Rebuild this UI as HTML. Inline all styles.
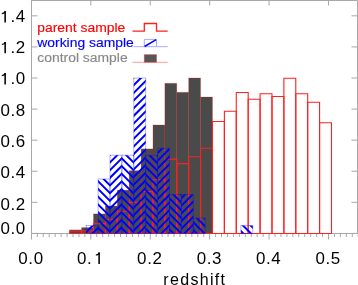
<!DOCTYPE html>
<html><head><meta charset="utf-8"><style>
html,body{margin:0;padding:0;background:#fff;width:358px;height:285px;overflow:hidden}
svg{display:block;will-change:transform}
text{font-family:"Liberation Sans",sans-serif}
</style></head><body>
<svg width="358" height="285" viewBox="0 0 358 285">
<rect width="358" height="285" fill="#fff"/>
<path d="M31.5 0.5 H357.5 V233.5 H31.5 Z" fill="none" stroke="#a8a8a8" stroke-width="1"/><path d="M31.5 233.40h6M357.5 233.40h-6M31.5 202.32h6M357.5 202.32h-6M31.5 171.24h6M357.5 171.24h-6M31.5 140.16h6M357.5 140.16h-6M31.5 109.08h6M357.5 109.08h-6M31.5 78.00h6M357.5 78.00h-6M31.5 46.92h6M357.5 46.92h-6M31.5 15.84h6M357.5 15.84h-6M31.50 233.5v6M31.50 0.5v5M37.34 233.5v3.5M43.28 233.5v3.5M49.23 233.5v3.5M55.17 233.5v3.5M61.11 233.5v3.5M67.05 233.5v3.5M72.99 233.5v3.5M78.94 233.5v3.5M84.88 233.5v3.5M90.82 233.5v6M90.82 0.5v5M96.76 233.5v3.5M102.70 233.5v3.5M108.65 233.5v3.5M114.59 233.5v3.5M120.53 233.5v3.5M126.47 233.5v3.5M132.41 233.5v3.5M138.36 233.5v3.5M144.30 233.5v3.5M150.24 233.5v6M150.24 0.5v5M156.18 233.5v3.5M162.12 233.5v3.5M168.07 233.5v3.5M174.01 233.5v3.5M179.95 233.5v3.5M185.89 233.5v3.5M191.83 233.5v3.5M197.78 233.5v3.5M203.72 233.5v3.5M209.66 233.5v6M209.66 0.5v5M215.60 233.5v3.5M221.54 233.5v3.5M227.49 233.5v3.5M233.43 233.5v3.5M239.37 233.5v3.5M245.31 233.5v3.5M251.25 233.5v3.5M257.20 233.5v3.5M263.14 233.5v3.5M269.08 233.5v6M269.08 0.5v5M275.02 233.5v3.5M280.96 233.5v3.5M286.91 233.5v3.5M292.85 233.5v3.5M298.79 233.5v3.5M304.73 233.5v3.5M310.67 233.5v3.5M316.62 233.5v3.5M322.56 233.5v3.5M328.50 233.5v6M328.50 0.5v5M334.44 233.5v3.5M340.38 233.5v3.5M346.33 233.5v3.5M352.27 233.5v3.5M358.21 233.5v3.5" stroke="#a8a8a8" stroke-width="1" fill="none"/>
<defs><clipPath id="c0"><rect x="86.20" y="225.50" width="11.90" height="8.00"/></clipPath><clipPath id="c1"><rect x="98.10" y="179.00" width="11.90" height="54.50"/></clipPath><clipPath id="c2"><rect x="110.00" y="155.20" width="11.90" height="78.30"/></clipPath><clipPath id="c3"><rect x="121.90" y="155.20" width="11.90" height="78.30"/></clipPath><clipPath id="c4"><rect x="133.80" y="78.00" width="11.90" height="155.50"/></clipPath><clipPath id="c5"><rect x="145.70" y="155.30" width="11.90" height="78.20"/></clipPath><clipPath id="c6"><rect x="157.60" y="148.30" width="11.90" height="85.20"/></clipPath><clipPath id="c7"><rect x="169.50" y="194.50" width="11.90" height="39.00"/></clipPath><clipPath id="c8"><rect x="181.40" y="194.50" width="11.90" height="39.00"/></clipPath><clipPath id="c9"><rect x="193.30" y="218.00" width="11.90" height="15.50"/></clipPath><clipPath id="c10"><rect x="240.90" y="225.50" width="11.90" height="8.00"/></clipPath></defs>
<rect x="69.68" y="229.90" width="11.90" height="3.60" fill="#4a4a4a" stroke="#ff0000" stroke-opacity="0.22" stroke-width="1"/>
<rect x="81.58" y="227.60" width="11.90" height="5.90" fill="#4a4a4a" stroke="#ff0000" stroke-opacity="0.22" stroke-width="1"/>
<rect x="93.47" y="213.90" width="11.90" height="19.60" fill="#4a4a4a" stroke="#ff0000" stroke-opacity="0.22" stroke-width="1"/>
<rect x="105.38" y="206.00" width="11.90" height="27.50" fill="#4a4a4a" stroke="#ff0000" stroke-opacity="0.22" stroke-width="1"/>
<rect x="117.28" y="190.20" width="11.90" height="43.30" fill="#4a4a4a" stroke="#ff0000" stroke-opacity="0.22" stroke-width="1"/>
<rect x="129.18" y="170.70" width="11.90" height="62.80" fill="#4a4a4a" stroke="#ff0000" stroke-opacity="0.22" stroke-width="1"/>
<rect x="141.08" y="148.90" width="11.90" height="84.60" fill="#4a4a4a" stroke="#ff0000" stroke-opacity="0.22" stroke-width="1"/>
<rect x="152.97" y="125.00" width="11.90" height="108.50" fill="#4a4a4a" stroke="#ff0000" stroke-opacity="0.22" stroke-width="1"/>
<rect x="164.88" y="83.30" width="11.90" height="150.20" fill="#4a4a4a" stroke="#ff0000" stroke-opacity="0.22" stroke-width="1"/>
<rect x="176.78" y="92.30" width="11.90" height="141.20" fill="#4a4a4a" stroke="#ff0000" stroke-opacity="0.22" stroke-width="1"/>
<rect x="188.68" y="78.00" width="11.90" height="155.50" fill="#4a4a4a" stroke="#ff0000" stroke-opacity="0.22" stroke-width="1"/>
<rect x="200.57" y="97.00" width="11.90" height="136.50" fill="#4a4a4a" stroke="#ff0000" stroke-opacity="0.22" stroke-width="1"/>
<path d="M69.68 233.5 V231.00 H81.58 V233.5" fill="none" stroke="#ff2020" stroke-width="1.1"/>
<path d="M81.58 233.5 V230.70 H93.47 V233.5" fill="none" stroke="#ff2020" stroke-width="1.1"/>
<path d="M93.47 233.5 V223.60 H105.38 V233.5" fill="none" stroke="#ff2020" stroke-width="1.1"/>
<path d="M105.38 233.5 V219.60 H117.28 V233.5" fill="none" stroke="#ff2020" stroke-width="1.1"/>
<path d="M117.28 233.5 V211.50 H129.18 V233.5" fill="none" stroke="#ff2020" stroke-width="1.1"/>
<path d="M129.18 233.5 V202.40 H141.08 V233.5" fill="none" stroke="#ff2020" stroke-width="1.1"/>
<path d="M141.08 233.5 V191.60 H152.97 V233.5" fill="none" stroke="#ff2020" stroke-width="1.1"/>
<path d="M152.97 233.5 V179.70 H164.88 V233.5" fill="none" stroke="#ff2020" stroke-width="1.1"/>
<path d="M164.88 233.5 V159.10 H176.78 V233.5" fill="none" stroke="#ff2020" stroke-width="1.1"/>
<path d="M176.78 233.5 V163.60 H188.68 V233.5" fill="none" stroke="#ff2020" stroke-width="1.1"/>
<path d="M188.68 233.5 V156.70 H200.57 V233.5" fill="none" stroke="#ff2020" stroke-width="1.1"/>
<path d="M200.57 233.5 V148.30 H212.47 V233.5" fill="none" stroke="#ff2020" stroke-width="1.1"/>
<path d="M212.47 233.5 V121.50 H224.38 V233.5" fill="none" stroke="#ff2020" stroke-width="1.1"/>
<path d="M224.38 233.5 V111.30 H236.28 V233.5" fill="none" stroke="#ff2020" stroke-width="1.1"/>
<path d="M236.28 233.5 V92.50 H248.18 V233.5" fill="none" stroke="#ff2020" stroke-width="1.1"/>
<path d="M248.18 233.5 V99.20 H260.07 V233.5" fill="none" stroke="#ff2020" stroke-width="1.1"/>
<path d="M260.07 233.5 V93.70 H271.98 V233.5" fill="none" stroke="#ff2020" stroke-width="1.1"/>
<path d="M271.98 233.5 V96.50 H283.88 V233.5" fill="none" stroke="#ff2020" stroke-width="1.1"/>
<path d="M283.88 233.5 V78.20 H295.78 V233.5" fill="none" stroke="#ff2020" stroke-width="1.1"/>
<path d="M295.78 233.5 V93.80 H307.68 V233.5" fill="none" stroke="#ff2020" stroke-width="1.1"/>
<path d="M307.68 233.5 V102.30 H319.58 V233.5" fill="none" stroke="#ff2020" stroke-width="1.1"/>
<path d="M319.58 233.5 V122.70 H331.48 V233.5" fill="none" stroke="#ff2020" stroke-width="1.1"/>
<path d="M69.68 233.5 H331.48" stroke="#ff2020" stroke-width="1.1"/>
<rect x="86.20" y="225.50" width="11.90" height="8.00" fill="none" stroke="#0000ff" stroke-opacity="0.3" stroke-width="1"/>
<path clip-path="url(#c0)" d="M81.20 221.85L103.10 199.95M81.20 229.50L103.10 207.60M81.20 237.15L103.10 215.25M81.20 244.80L103.10 222.90M81.20 252.45L103.10 230.55M81.20 260.10L103.10 238.20" stroke="#0000ff" stroke-width="2.0" fill="none"/>
<rect x="98.10" y="179.00" width="11.90" height="54.50" fill="none" stroke="#0000ff" stroke-opacity="0.3" stroke-width="1"/>
<path clip-path="url(#c1)" d="M93.10 238.14L115.00 260.04M93.10 230.40L115.00 252.30M93.10 222.66L115.00 244.56M93.10 214.92L115.00 236.82M93.10 207.18L115.00 229.08M93.10 199.44L115.00 221.34M93.10 191.70L115.00 213.60M93.10 183.96L115.00 205.86M93.10 176.22L115.00 198.12M93.10 168.48L115.00 190.38M93.10 160.74L115.00 182.64M93.10 153.00L115.00 174.90" stroke="#0000ff" stroke-width="2.0" fill="none"/>
<rect x="110.00" y="155.20" width="11.90" height="78.30" fill="none" stroke="#0000ff" stroke-opacity="0.3" stroke-width="1"/>
<path clip-path="url(#c2)" d="M105.00 152.15L126.90 130.25M105.00 159.80L126.90 137.90M105.00 167.45L126.90 145.55M105.00 175.10L126.90 153.20M105.00 182.75L126.90 160.85M105.00 190.40L126.90 168.50M105.00 198.05L126.90 176.15M105.00 205.70L126.90 183.80M105.00 213.35L126.90 191.45M105.00 221.00L126.90 199.10M105.00 228.65L126.90 206.75M105.00 236.30L126.90 214.40M105.00 243.95L126.90 222.05M105.00 251.60L126.90 229.70M105.00 259.25L126.90 237.35" stroke="#0000ff" stroke-width="2.0" fill="none"/>
<rect x="121.90" y="155.20" width="11.90" height="78.30" fill="none" stroke="#0000ff" stroke-opacity="0.3" stroke-width="1"/>
<path clip-path="url(#c3)" d="M116.90 238.72L138.80 260.62M116.90 230.98L138.80 252.88M116.90 223.24L138.80 245.14M116.90 215.50L138.80 237.40M116.90 207.76L138.80 229.66M116.90 200.02L138.80 221.92M116.90 192.28L138.80 214.18M116.90 184.54L138.80 206.44M116.90 176.80L138.80 198.70M116.90 169.06L138.80 190.96M116.90 161.32L138.80 183.22M116.90 153.58L138.80 175.48M116.90 145.84L138.80 167.74M116.90 138.10L138.80 160.00M116.90 130.36L138.80 152.26" stroke="#0000ff" stroke-width="2.0" fill="none"/>
<rect x="133.80" y="78.00" width="11.90" height="155.50" fill="none" stroke="#0000ff" stroke-opacity="0.3" stroke-width="1"/>
<path clip-path="url(#c4)" d="M128.80 74.80L150.70 52.90M128.80 82.45L150.70 60.55M128.80 90.10L150.70 68.20M128.80 97.75L150.70 75.85M128.80 105.40L150.70 83.50M128.80 113.05L150.70 91.15M128.80 120.70L150.70 98.80M128.80 128.35L150.70 106.45M128.80 136.00L150.70 114.10M128.80 143.65L150.70 121.75M128.80 151.30L150.70 129.40M128.80 158.95L150.70 137.05M128.80 166.60L150.70 144.70M128.80 174.25L150.70 152.35M128.80 181.90L150.70 160.00M128.80 189.55L150.70 167.65M128.80 197.20L150.70 175.30M128.80 204.85L150.70 182.95M128.80 212.50L150.70 190.60M128.80 220.15L150.70 198.25M128.80 227.80L150.70 205.90M128.80 235.45L150.70 213.55M128.80 243.10L150.70 221.20M128.80 250.75L150.70 228.85M128.80 258.40L150.70 236.50" stroke="#0000ff" stroke-width="2.0" fill="none"/>
<rect x="145.70" y="155.30" width="11.90" height="78.20" fill="none" stroke="#0000ff" stroke-opacity="0.3" stroke-width="1"/>
<path clip-path="url(#c5)" d="M140.70 239.30L162.60 261.20M140.70 231.56L162.60 253.46M140.70 223.82L162.60 245.72M140.70 216.08L162.60 237.98M140.70 208.34L162.60 230.24M140.70 200.60L162.60 222.50M140.70 192.86L162.60 214.76M140.70 185.12L162.60 207.02M140.70 177.38L162.60 199.28M140.70 169.64L162.60 191.54M140.70 161.90L162.60 183.80M140.70 154.16L162.60 176.06M140.70 146.42L162.60 168.32M140.70 138.68L162.60 160.58M140.70 130.94L162.60 152.84M140.70 123.20L162.60 145.10" stroke="#0000ff" stroke-width="2.0" fill="none"/>
<rect x="157.60" y="148.30" width="11.90" height="85.20" fill="none" stroke="#0000ff" stroke-opacity="0.3" stroke-width="1"/>
<path clip-path="url(#c6)" d="M152.60 142.80L174.50 120.90M152.60 150.45L174.50 128.55M152.60 158.10L174.50 136.20M152.60 165.75L174.50 143.85M152.60 173.40L174.50 151.50M152.60 181.05L174.50 159.15M152.60 188.70L174.50 166.80M152.60 196.35L174.50 174.45M152.60 204.00L174.50 182.10M152.60 211.65L174.50 189.75M152.60 219.30L174.50 197.40M152.60 226.95L174.50 205.05M152.60 234.60L174.50 212.70M152.60 242.25L174.50 220.35M152.60 249.90L174.50 228.00M152.60 257.55L174.50 235.65M152.60 265.20L174.50 243.30" stroke="#0000ff" stroke-width="2.0" fill="none"/>
<rect x="169.50" y="194.50" width="11.90" height="39.00" fill="none" stroke="#0000ff" stroke-opacity="0.3" stroke-width="1"/>
<path clip-path="url(#c7)" d="M164.50 239.88L186.40 261.78M164.50 232.14L186.40 254.04M164.50 224.40L186.40 246.30M164.50 216.66L186.40 238.56M164.50 208.92L186.40 230.82M164.50 201.18L186.40 223.08M164.50 193.44L186.40 215.34M164.50 185.70L186.40 207.60M164.50 177.96L186.40 199.86M164.50 170.22L186.40 192.12M164.50 162.48L186.40 184.38" stroke="#0000ff" stroke-width="2.0" fill="none"/>
<rect x="181.40" y="194.50" width="11.90" height="39.00" fill="none" stroke="#0000ff" stroke-opacity="0.3" stroke-width="1"/>
<path clip-path="url(#c8)" d="M176.40 187.85L198.30 165.95M176.40 195.50L198.30 173.60M176.40 203.15L198.30 181.25M176.40 210.80L198.30 188.90M176.40 218.45L198.30 196.55M176.40 226.10L198.30 204.20M176.40 233.75L198.30 211.85M176.40 241.40L198.30 219.50M176.40 249.05L198.30 227.15M176.40 256.70L198.30 234.80M176.40 264.35L198.30 242.45" stroke="#0000ff" stroke-width="2.0" fill="none"/>
<rect x="193.30" y="218.00" width="11.90" height="15.50" fill="none" stroke="#0000ff" stroke-opacity="0.3" stroke-width="1"/>
<path clip-path="url(#c9)" d="M188.30 240.46L210.20 262.36M188.30 232.72L210.20 254.62M188.30 224.98L210.20 246.88M188.30 217.24L210.20 239.14M188.30 209.50L210.20 231.40M188.30 201.76L210.20 223.66M188.30 194.02L210.20 215.92M188.30 186.28L210.20 208.18" stroke="#0000ff" stroke-width="2.0" fill="none"/>
<rect x="240.90" y="225.50" width="11.90" height="8.00" fill="none" stroke="#0000ff" stroke-opacity="0.3" stroke-width="1"/>
<path clip-path="url(#c10)" d="M235.90 241.62L257.80 263.52M235.90 233.88L257.80 255.78M235.90 226.14L257.80 248.04M235.90 218.40L257.80 240.30M235.90 210.66L257.80 232.56M235.90 202.92L257.80 224.82M235.90 195.18L257.80 217.08" stroke="#0000ff" stroke-width="2.0" fill="none"/>
<g font-family="Liberation Sans, sans-serif" fill="#000"><text transform="translate(25.88 233.50) scale(1.06 1)" text-anchor="end" font-size="16" letter-spacing="0.6">0.0</text><text transform="translate(25.88 209.60) scale(1.06 1)" text-anchor="end" font-size="16" letter-spacing="0.6">0.2</text><text transform="translate(25.88 178.20) scale(1.06 1)" text-anchor="end" font-size="16" letter-spacing="0.6">0.4</text><text transform="translate(25.88 147.00) scale(1.06 1)" text-anchor="end" font-size="16" letter-spacing="0.6">0.6</text><text transform="translate(25.88 116.40) scale(1.06 1)" text-anchor="end" font-size="16" letter-spacing="0.6">0.8</text><text transform="translate(25.88 84.40) scale(1.06 1)" text-anchor="end" font-size="16" letter-spacing="0.6">.0</text><text transform="translate(25.88 53.20) scale(1.06 1)" text-anchor="end" font-size="16" letter-spacing="0.6">.2</text><text transform="translate(25.88 22.40) scale(1.06 1)" text-anchor="end" font-size="16" letter-spacing="0.6">.4</text><text transform="translate(30.97 264) scale(1.06 1)" text-anchor="middle" font-size="16" letter-spacing="0.6">0.0</text><text transform="translate(77.0 264) scale(1.06 1)" font-size="16" letter-spacing="0.6">0.</text><text transform="translate(149.82 264) scale(1.06 1)" text-anchor="middle" font-size="16" letter-spacing="0.6">0.2</text><text transform="translate(209.37 264) scale(1.06 1)" text-anchor="middle" font-size="16" letter-spacing="0.6">0.3</text><text transform="translate(268.67 264) scale(1.06 1)" text-anchor="middle" font-size="16" letter-spacing="0.6">0.4</text><text transform="translate(328.17 264) scale(1.06 1)" text-anchor="middle" font-size="16" letter-spacing="0.6">0.5</text><text x="194.8" y="284.8" text-anchor="middle" font-size="16" letter-spacing="1.3">redshift</text><text transform="translate(37.3 31.6) scale(1.03 1)" font-size="13.5" fill="#ff0000" stroke="#ff0000" stroke-width="0.15">parent sample</text><text transform="translate(37.3 46.7) scale(1.03 1)" font-size="13.5" fill="#0000ff" stroke="#0000ff" stroke-width="0.15">working sample</text><text transform="translate(37.3 62.0) scale(1.03 1)" font-size="13.5" fill="#888888" stroke="#888888" stroke-width="0.15">control sample</text></g>
<path d="M5.15 84.40V73.20" stroke="#000" stroke-width="1.55" fill="none"/><path d="M5.90 73.10L4.55 73.10C4.25 74.40 2.95 74.90 1.85 75.10L1.85 76.20C3.35 76.10 4.55 75.60 5.25 74.80Z" fill="#000"/><path d="M5.15 53.20V42.00" stroke="#000" stroke-width="1.55" fill="none"/><path d="M5.90 41.90L4.55 41.90C4.25 43.20 2.95 43.70 1.85 43.90L1.85 45.00C3.35 44.90 4.55 44.40 5.25 43.60Z" fill="#000"/><path d="M5.15 22.40V11.20" stroke="#000" stroke-width="1.55" fill="none"/><path d="M5.90 11.10L4.55 11.10C4.25 12.40 2.95 12.90 1.85 13.10L1.85 14.20C3.35 14.10 4.55 13.60 5.25 12.80Z" fill="#000"/><path d="M99.10 264.00V252.60" stroke="#000" stroke-width="1.55" fill="none"/><path d="M99.85 252.50L98.50 252.50C98.20 253.80 96.90 254.30 95.80 254.50L95.80 255.60C97.30 255.50 98.50 255.00 99.20 254.20Z" fill="#000"/>
<path d="M132.5 31.2H144.3V23.5H156.5V31.2H167.7" fill="none" stroke="#ff2020" stroke-width="1.3"/>
<path d="M133.5 46.7H167.7M144.3 46.7V39.4H156.5V46.7" fill="none" stroke="#a8a8ff" stroke-width="1"/>
<path d="M144.6 46.5L156.2 39.6" stroke="#0000ff" stroke-width="1.5"/>
<path d="M132.5 62.3H167.7" stroke="#ff9a9a" stroke-width="1"/>
<rect x="144.3" y="54.6" width="12.2" height="7.6" fill="#575757" stroke="#ff0000" stroke-opacity="0.3" stroke-width="1"/>
</svg>
</body></html>
